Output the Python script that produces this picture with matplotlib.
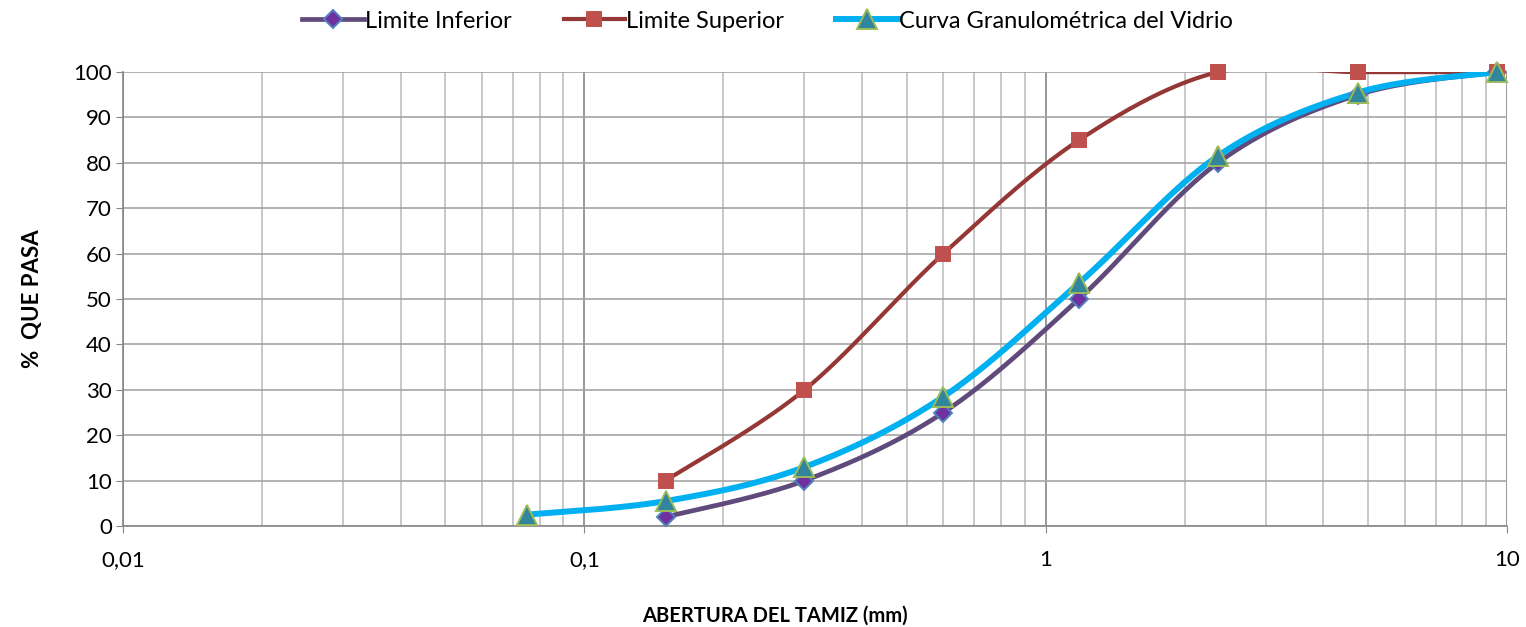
import numpy as np
import matplotlib.pyplot as plt
from matplotlib.ticker import FixedLocator, FuncFormatter

plt.rcParams['font.family'] = ['Lato', 'DejaVu Sans']

# Tamices (mm) y % que pasa
tamiz_lim = [0.15, 0.3, 0.6, 1.18, 2.36, 4.75, 9.5]
lim_inferior = [2, 10, 25, 50, 80, 95, 100]
lim_superior = [10, 30, 60, 85, 100, 100, 100]
tamiz_vidrio = [0.075, 0.15, 0.3, 0.6, 1.18, 2.36, 4.75, 9.5]
curva_vidrio = [2.5, 5.5, 13, 28.5, 53.5, 81.5, 95.5, 100]

# escala en pixeles del area de trazado (para suavizado tipo Excel)
PX_X = 1384 / 3.0
PX_Y = 454 / 100.0


def suavizar(xs, ys, n=40):
    # curva Bezier con puntos de control (P[i+1]-P[i-1])/6, como Excel
    u = np.log10(np.array(xs, float)) * PX_X
    v = np.array(ys, float) * PX_Y
    P = np.column_stack([u, v])
    P = np.vstack([P[0], P, P[-1]])
    out = []
    t = np.linspace(0, 1, n)[:, None]
    for i in range(1, len(P) - 2):
        p0, p3 = P[i], P[i + 1]
        c1 = p0 + (P[i + 1] - P[i - 1]) / 6
        c2 = p3 - (P[i + 2] - P[i]) / 6
        seg = ((1 - t) ** 3) * p0 + 3 * ((1 - t) ** 2) * t * c1 + 3 * (1 - t) * t ** 2 * c2 + t ** 3 * p3
        out.append(seg)
    out = np.vstack(out)
    return 10 ** (out[:, 0] / PX_X), out[:, 1] / PX_Y


fig = plt.figure(figsize=(15.26, 6.27), dpi=100)
ax = fig.add_axes([0.0806, 0.161, 0.907, 0.724])

series = [
    (tamiz_lim, lim_inferior, 'Limite Inferior', '#604A7B', 3.4, 'D', '#7030A0', '#4F81BD', 9),
    (tamiz_lim, lim_superior, 'Limite Superior', '#953735', 3.0, 's', '#C0504D', '#C0504D', 10.5),
    (tamiz_vidrio, curva_vidrio, 'Curva Granulométrica del Vidrio', '#00B0F0', 4.3, '^', '#31859C', '#9BBB59', 14),
]
handles = []
for xs, ys, lab, col, lw, mk, mfc, mec, ms in series:
    sx, sy = suavizar(xs, ys)
    ax.plot(sx, sy, color=col, lw=lw, solid_capstyle='round', zorder=3)
    ax.plot(xs, ys, ls='none', marker=mk, ms=ms, mfc=mfc, mec=mec, mew=1.4, zorder=4, clip_on=False)
    h, = ax.plot([], [], color=col, lw=lw, marker=mk, ms=ms, mfc=mfc, mec=mec, mew=1.4, label=lab)
    handles.append(h)

ax.set_xscale('log')
ax.set_xlim(0.01, 10)
ax.set_ylim(0, 100)
ax.set_yticks(range(0, 101, 10))
ax.xaxis.set_major_locator(FixedLocator([0.01, 0.1, 1, 10]))
ax.xaxis.set_major_formatter(FuncFormatter(lambda v, p: ('%g' % v).replace('.', ',')))
minors = [m * 10.0 ** e for e in (-2, -1, 0) for m in range(2, 10)]
ax.xaxis.set_minor_locator(FixedLocator(minors))
ax.xaxis.set_minor_formatter(FuncFormatter(lambda v, p: ''))

ax.grid(True, which='minor', axis='x', color='#BFBFBF', lw=1.2)
ax.grid(True, which='major', axis='x', color='#868686', lw=1.2)
ax.grid(True, which='major', axis='y', color='#A6A6A6', lw=1.2)
ax.set_axisbelow(True)
for s in ['top', 'right']:
    ax.spines[s].set_visible(False)
for s in ['left', 'bottom']:
    ax.spines[s].set_color('#868686')
    ax.spines[s].set_linewidth(1.2)
ax.tick_params(axis='both', which='major', labelsize=16, length=5, color='#868686')
ax.tick_params(axis='x', which='major', pad=12)
ax.tick_params(axis='y', which='major', pad=3)
ax.tick_params(axis='x', which='minor', length=0)

ax.set_xlabel('ABERTURA DEL TAMIZ (mm)', fontsize=14.5, fontweight='bold')
ax.xaxis.set_label_coords(0.471, -0.175)
ax.set_ylabel('%  QUE PASA', fontsize=16, fontweight='bold', labelpad=22)

fig.legend(handles=handles, loc='upper center', bbox_to_anchor=(0.503, 1.017), ncol=3,
           frameon=False, fontsize=17, handlelength=2.6, handletextpad=0.05, columnspacing=2.2)

fig.savefig('out.png', dpi=100)
